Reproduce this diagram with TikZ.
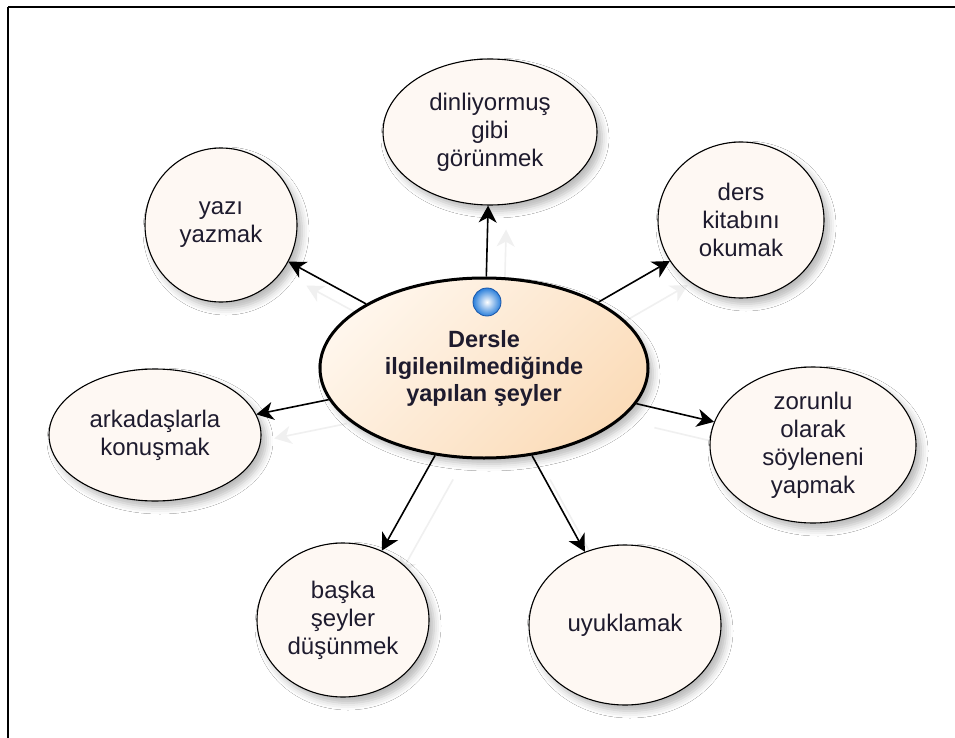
\documentclass[tikz,border=0pt]{standalone}
\usepackage{fontspec}
\setmainfont{Liberation Sans}
\usetikzlibrary{shapes.geometric,arrows.meta,shadows.blur,backgrounds}
\definecolor{leaffill}{HTML}{FEF8F3}
\definecolor{centerlight}{HTML}{FFF6EC}
\definecolor{centerdark}{HTML}{FBDCB9}
\definecolor{txt}{HTML}{1E1B2E}
\definecolor{ballblue}{HTML}{2A7FDB}
\definecolor{ballrim}{HTML}{1A56A8}
\begin{document}
\begin{tikzpicture}[x=1pt,y=-1pt,
  leaf/.style={ellipse, draw=black, line width=1.1pt, fill=leaffill, inner sep=0pt,
    align=center, font=\fontsize{24}{28}\selectfont, text=txt,
    blur shadow={shadow xshift=5pt, shadow yshift=-6pt, shadow opacity=28, shadow blur radius=7pt}},
  hub/.style={ellipse, draw=black, line width=3pt, inner sep=0pt,
    top color=centerlight, bottom color=centerdark, shading angle=45,
    align=center, font=\bfseries\fontsize{23.5}{27}\selectfont, text=txt,
    blur shadow={shadow xshift=5pt, shadow yshift=-6pt, shadow opacity=28, shadow blur radius=7pt}},
  link/.style={draw=black, line width=1.6pt, -{Stealth[length=17pt,width=18pt,inset=5pt]}},
  faint/.style={draw=black!6, line width=1.6pt, -{Stealth[length=17pt,width=18pt,inset=5pt]},
    transform canvas={shift={(18pt,-24pt)}}},
  frame/.style={draw=black, line width=2pt}
]
\useasboundingbox (0,0) rectangle (955,738);

\node[hub, minimum width=328pt, minimum height=180pt] (c) at (484,368)
  {Dersle\\ilgilenilmediğinde\\yapılan şeyler};
\node[leaf, minimum width=214pt, minimum height=146pt] (n1) at (490,132)
  {dinliyormuş\\gibi\\görünmek};
\node[leaf, minimum width=152pt, minimum height=154pt] (n2) at (221,225)
  {yazı\\yazmak};
\node[leaf, minimum width=166pt, minimum height=156pt] (n3) at (741,220)
  {ders\\kitabını\\okumak};
\node[leaf, minimum width=212pt, minimum height=132pt] (n4) at (155,435)
  {arkadaşlarla\\konuşmak};
\node[leaf, minimum width=206pt, minimum height=156pt] (n5) at (813,445)
  {zorunlu\\olarak\\söyleneni\\yapmak};
\node[leaf, minimum width=172pt, minimum height=154pt] (n6) at (343,620)
  {başka\\şeyler\\düşünmek};
\node[leaf, minimum width=192pt, minimum height=160pt] (n7) at (625,625)
  {uyuklamak};

\shade[inner color=white, outer color=ballblue] (487,302) circle (14pt);
\draw[ballrim, line width=0.8pt] (487,302) circle (14pt);

\begin{scope}[on background layer]
  \fill[white] (0,0) rectangle (955,738);
  \draw[frame] (8,7) -- (955,7);
  \draw[frame] (8,7) -- (8,738);
  \foreach \n in {n1,n2,n3,n4,n5,n6,n7} \draw[faint] (c) -- (\n);
  \foreach \n in {n1,n2,n3,n4,n5,n6,n7} \draw[link] (c) -- (\n);
\end{scope}
\end{tikzpicture}
\end{document}
